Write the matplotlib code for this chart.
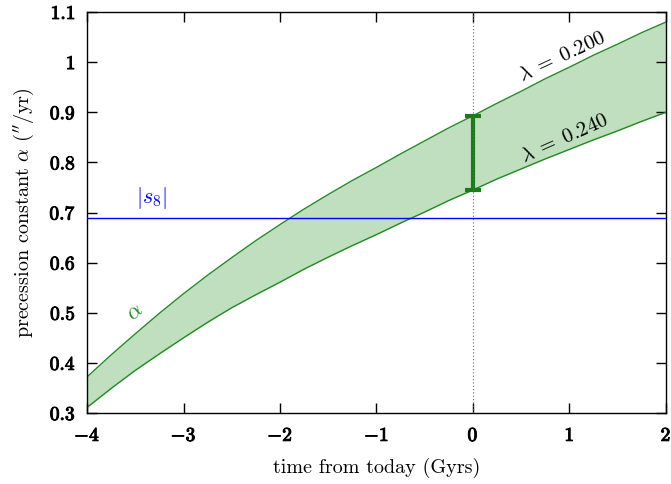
import matplotlib
matplotlib.use("Agg")
import matplotlib.pyplot as plt
import matplotlib.patheffects as pe

plt.rcParams["mathtext.fontset"] = "cm"
plt.rcParams["font.family"] = "cmr10"
plt.rcParams["axes.unicode_minus"] = False

# precession constant band, sampled every quarter Gyr
time_gyr = [-4.0, -3.75, -3.5, -3.25, -3.0, -2.75, -2.5, -2.25, -2.0, -1.75,
            -1.5, -1.25, -1.0, -0.75, -0.5, -0.25, 0.0, 0.25, 0.5, 0.75,
            1.0, 1.25, 1.5, 1.75, 2.0]
alpha_lam200 = [0.372, 0.416, 0.458, 0.499, 0.538, 0.575, 0.610, 0.644, 0.676,
                0.707, 0.736, 0.764, 0.790, 0.817, 0.843, 0.869, 0.893, 0.918,
                0.942, 0.967, 0.990, 1.014, 1.036, 1.059, 1.080]
alpha_lam240 = [0.311, 0.349, 0.385, 0.418, 0.450, 0.481, 0.510, 0.536, 0.561,
                0.587, 0.611, 0.634, 0.656, 0.679, 0.701, 0.724, 0.745, 0.767,
                0.787, 0.807, 0.826, 0.845, 0.863, 0.882, 0.900]
s8_abs = 0.690

# present-day range
today = 0.0
today_low, today_high = 0.745, 0.893

xticks = [-4, -3, -2, -1, 0, 1, 2]
yticks = [0.3, 0.4, 0.5, 0.6, 0.7, 0.8, 0.9, 1.0, 1.1]
xticklabels = ["-4", "-3", "-2", "-1", "0", "1", "2"]
yticklabels = ["0.3", "0.4", "0.5", "0.6", "0.7", "0.8", "0.9", "1", "1.1"]

GREEN = "#228b22"
FILL = "#bfdfbf"
DARK = "#1b7a1b"
BLUE = "#0000ff"

fig = plt.figure(figsize=(6.71, 4.84), dpi=100)
ax = fig.add_axes([0.1297, 0.1467, 0.8628, 0.8285])

ax.fill_between(time_gyr, alpha_lam240, alpha_lam200, color=FILL, lw=0, zorder=1)
ax.plot(time_gyr, alpha_lam200, color=GREEN, lw=1.0, zorder=2)
ax.plot(time_gyr, alpha_lam240, color=GREEN, lw=1.0, zorder=2)
ax.axhline(s8_abs, color=BLUE, lw=1.0, zorder=3)

ax.errorbar([today], [(today_low + today_high) / 2],
            yerr=[[(today_high - today_low) / 2]],
            fmt="none", ecolor=DARK, elinewidth=3.0, capsize=6, capthick=3.0,
            zorder=4)
ax.axvline(today, color="#666666", lw=0.8, ls=(0, (1, 2)), zorder=5)

ax.set_xlim(-4, 2)
ax.set_ylim(0.3, 1.1)
ax.set_xticks(xticks)
ax.set_yticks(yticks)
ax.set_xticklabels([r"$\mathbf{%s}$" % t for t in xticklabels], fontsize=14)
ax.set_yticklabels([r"$\mathbf{%s}$" % t for t in yticklabels], fontsize=14)
ax.tick_params(direction="in", length=7, width=1.0, top=True, right=True)
ax.tick_params(axis="x", pad=10)
ax.tick_params(axis="y", pad=8)
bold = [pe.withStroke(linewidth=0.7, foreground="black")]
for lab in ax.get_xticklabels() + ax.get_yticklabels():
    lab.set_path_effects(bold)
for sp in ax.spines.values():
    sp.set_linewidth(1.0)

ax.set_xlabel("time from today (Gyrs)", fontsize=14.5, labelpad=9)
ax.set_ylabel(r"precession constant $\alpha$ ($^{\prime\prime}$/yr)", fontsize=14.5,
              labelpad=10)

ax.text(0.93, 1.011, r"$\lambda\;=\;0.200$", fontsize=15, rotation=25,
        ha="center", va="center", zorder=6)
ax.text(0.95, 0.847, r"$\lambda\;=\;0.240$", fontsize=15, rotation=24,
        ha="center", va="center", zorder=6)
ax.text(-3.33, 0.729, r"$|s_8|$", fontsize=16, color=BLUE,
        ha="center", va="center", zorder=6)
ax.text(-3.5, 0.50, r"$\alpha$", fontsize=16, color=GREEN, rotation=40,
        ha="center", va="center", zorder=6)

fig.savefig("out.png", dpi=100)
